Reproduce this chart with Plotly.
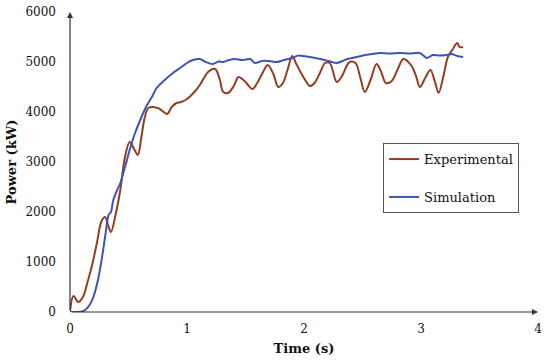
import plotly.graph_objects as go

# Experimental series
exp_t = [0, 0.03, 0.07, 0.11, 0.15, 0.19, 0.23, 0.27, 0.30, 0.33, 0.35, 0.39, 0.43, 0.47, 0.51,
         0.55, 0.58, 0.61, 0.64, 0.67, 0.75, 0.79, 0.83, 0.87, 0.91, 0.95, 1.00, 1.03, 1.07, 1.11,
         1.15, 1.18, 1.24, 1.28, 1.31, 1.35, 1.40, 1.44, 1.50, 1.56, 1.60, 1.65, 1.69, 1.74, 1.78,
         1.82, 1.86, 1.90, 1.93, 1.97, 2.01, 2.05, 2.09, 2.14, 2.18, 2.22, 2.28, 2.32, 2.39, 2.44,
         2.48, 2.52, 2.57, 2.62, 2.66, 2.70, 2.75, 2.80, 2.85, 2.92, 2.96, 2.99, 3.04, 3.08, 3.12,
         3.15, 3.19, 3.23, 3.27, 3.31, 3.33, 3.36]
exp_p = [0, 320, 200, 300, 600, 950, 1380, 1820, 1900, 1700, 1600, 1950, 2440, 3100, 3400,
         3250, 3140, 3500, 3900, 4080, 4080, 4020, 3960, 4100, 4180, 4200, 4260, 4320, 4420, 4540,
         4700, 4800, 4860, 4650, 4400, 4380, 4520, 4700, 4600, 4460, 4580, 4800, 4940, 4750, 4500,
         4580, 4850, 5120, 4980, 4800, 4640, 4520, 4580, 4800, 4980, 4980, 4600, 4700, 5000, 4980,
         4700, 4400, 4650, 4960, 4800, 4580, 4620, 4850, 5060, 4920, 4700, 4500, 4700, 4840, 4600,
         4380, 4700, 5100, 5250, 5380, 5300, 5300]

# Simulation series
sim_t = [0, 0.05, 0.10, 0.13, 0.17, 0.20, 0.24, 0.27, 0.30, 0.33, 0.35, 0.37, 0.40, 0.43, 0.47,
         0.51, 0.55, 0.60, 0.65, 0.70, 0.74, 0.80, 0.88, 0.94, 1.00, 1.05, 1.11, 1.16, 1.22, 1.27,
         1.31, 1.36, 1.41, 1.47, 1.54, 1.58, 1.64, 1.70, 1.77, 1.83, 1.90, 1.95, 1.99, 2.05, 2.14,
         2.21, 2.28, 2.33, 2.37, 2.45, 2.52, 2.58, 2.65, 2.73, 2.82, 2.90, 2.99, 3.05, 3.10, 3.16,
         3.22, 3.26, 3.31, 3.36]
sim_p = [0, 0, 10, 40, 150, 300, 650, 1040, 1500, 1940, 2000, 2240, 2420, 2580, 2900,
         3240, 3540, 3840, 4100, 4300, 4480, 4620, 4780, 4880, 4980, 5040, 5060, 5000, 4960, 5010,
         5000, 5040, 5060, 5040, 5060, 4980, 5020, 5020, 5000, 5040, 5080, 5130, 5120, 5100, 5060,
         5020, 4980, 5020, 5060, 5100, 5140, 5160, 5180, 5170, 5180, 5170, 5180, 5080, 5140, 5130,
         5140, 5160, 5120, 5100]

x_ticks = [0, 1, 2, 3, 4]
y_ticks = [0, 1000, 2000, 3000, 4000, 5000, 6000]

FONT = "DejaVu Serif"

fig = go.Figure()
fig.add_trace(go.Scatter(x=exp_t, y=exp_p, mode="lines", name="Experimental",
                         legendgroup="a",
                         line=dict(color="#943d20", width=2, shape="spline", smoothing=1.0)))
fig.add_trace(go.Scatter(x=sim_t, y=sim_p, mode="lines", name="Simulation",
                         legendgroup="b",
                         line=dict(color="#3d56b2", width=2, shape="spline", smoothing=0.8)))

axis_color = "#333333"
# axis arrows
fig.add_annotation(x=4, y=0, ax=0, ay=0, xref="x", yref="y", axref="x", ayref="y",
                   showarrow=True, arrowhead=2, arrowsize=1, arrowwidth=1.2,
                   arrowcolor=axis_color, text="")
fig.add_annotation(x=0, y=6000, ax=0, ay=0, xref="x", yref="y", axref="x", ayref="y",
                   showarrow=True, arrowhead=2, arrowsize=1, arrowwidth=1.2,
                   arrowcolor=axis_color, text="")

fig.update_layout(
    width=550, height=362,
    margin=dict(l=70, r=12, t=12, b=50, autoexpand=False),
    paper_bgcolor="white", plot_bgcolor="white",
    font=dict(family=FONT, size=12, color="#111111"),
    showlegend=True,
    legend=dict(x=0.669, y=0.563, xanchor="left", yanchor="top",
                bordercolor="#555555", borderwidth=1, bgcolor="white",
                font=dict(family=FONT, size=13, color="#111111"),
                tracegroupgap=18, itemwidth=30),
    xaxis=dict(range=[0, 4], tickvals=x_ticks, ticktext=[str(v) for v in x_ticks],
               showgrid=False, zeroline=False, showline=False, ticks="",
               automargin=False, ticklabelstandoff=8,
               title=dict(text="<b>Time (s)</b>", standoff=8,
                          font=dict(family=FONT, size=13)),
               tickfont=dict(family=FONT, size=12)),
    yaxis=dict(range=[0, 6000], tickvals=y_ticks, ticktext=[str(v) for v in y_ticks],
               showgrid=False, zeroline=False, showline=False, ticks="",
               automargin=False, ticklabelstandoff=13,
               title=dict(text="<b>Power (kW)</b>", standoff=5,
                          font=dict(family=FONT, size=13)),
               tickfont=dict(family=FONT, size=12)),
)

fig.write_html("out.html", config={"displayModeBar": False},
               post_script="document.body.style.margin='0';")
